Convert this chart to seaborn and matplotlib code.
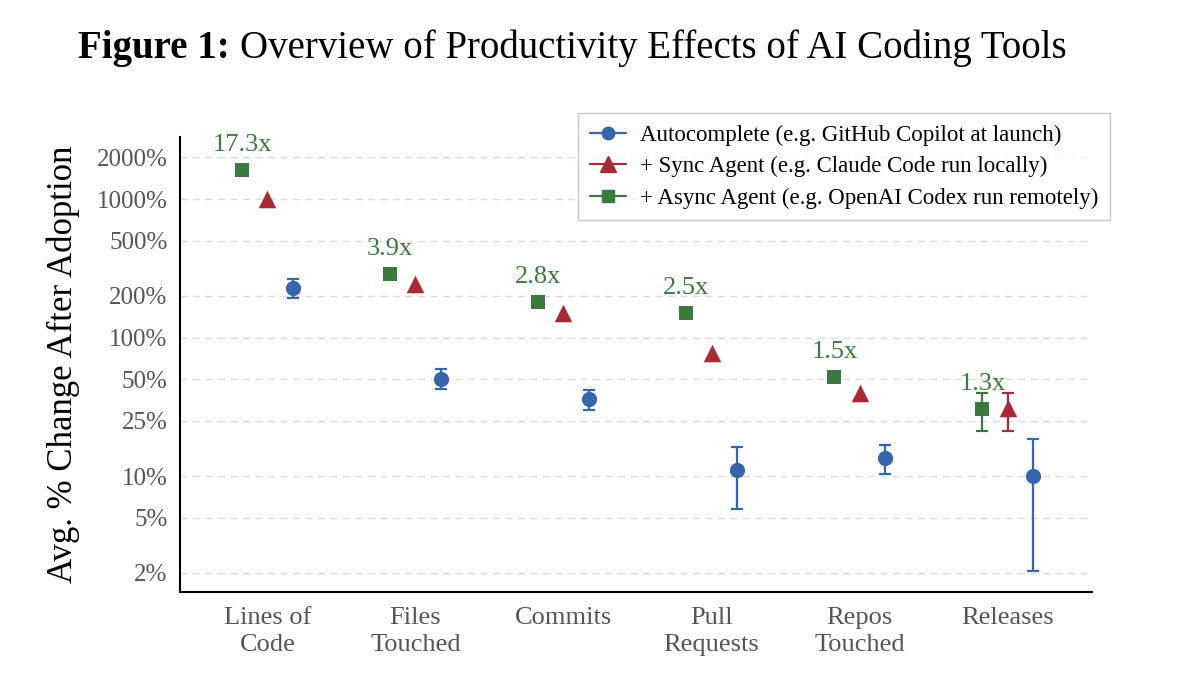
import numpy as np
import pandas as pd
import matplotlib
matplotlib.use("Agg")
import matplotlib.pyplot as plt
from matplotlib.lines import Line2D
import seaborn as sns

# values (percent change after adoption)
categories = ["Lines of\nCode", "Files\nTouched", "Commits", "Pull\nRequests", "Repos\nTouched", "Releases"]
auto_vals = [228, 50, 36, 11, 13.6, 10]
auto_lo = [193, 42.5, 30, 5.8, 10.3, 2.07]
auto_hi = [264, 59, 42, 16.1, 16.9, 18.4]
sync_vals = [1000, 243, 150, 78, 40, 31]
sync_lo = [np.nan, np.nan, np.nan, np.nan, np.nan, 21]
sync_hi = [np.nan, np.nan, np.nan, np.nan, np.nan, 40]
async_vals = [1630, 290, 180, 150, 52, 30.5]
async_lo = [np.nan, np.nan, np.nan, np.nan, np.nan, 21]
async_hi = [np.nan, np.nan, np.nan, np.nan, np.nan, 40]
multipliers = ["17.3x", "3.9x", "2.8x", "2.5x", "1.5x", "1.3x"]
yticks = [2, 5, 10, 25, 50, 100, 200, 500, 1000, 2000]

series = ["Autocomplete (e.g. GitHub Copilot at launch)",
          "+ Sync Agent (e.g. Claude Code run locally)",
          "+ Async Agent (e.g. OpenAI Codex run remotely)"]
colors = {series[0]: "#3565ad", series[1]: "#a82a35", series[2]: "#3a7a3c"}
markers = {series[0]: "o", series[1]: "^", series[2]: "s"}
sizes = {series[0]: 120, series[1]: 160, series[2]: 110}
offsets = {series[0]: 0.17, series[1]: 0.0, series[2]: -0.17}

rows = []
for name, vals, lo, hi in [(series[0], auto_vals, auto_lo, auto_hi),
                           (series[1], sync_vals, sync_lo, sync_hi),
                           (series[2], async_vals, async_lo, async_hi)]:
    for i, cat in enumerate(categories):
        rows.append({"series": name, "cat": i, "x": i + offsets[name],
                     "value": vals[i], "lo": lo[i], "hi": hi[i]})
df = pd.DataFrame(rows)

sns.set_theme(style="white")
plt.rcParams["font.family"] = ["Liberation Serif", "DejaVu Serif"]
plt.rcParams["text.color"] = "black"

fig = plt.figure(figsize=(12, 6.76), dpi=100)
ax = fig.add_axes([0.15, 0.124, 0.76, 0.673])

# error bars first so markers sit on top
for name in series:
    sub = df[(df["series"] == name) & df["lo"].notna()]
    if len(sub):
        ax.errorbar(sub["x"], sub["value"],
                    yerr=[sub["value"] - sub["lo"], sub["hi"] - sub["value"]],
                    fmt="none", ecolor=colors[name], elinewidth=1.6,
                    capsize=4, capthick=1.6, zorder=2)

for name in series:
    sns.scatterplot(data=df[df["series"] == name], x="x", y="value",
                    color=colors[name], marker=markers[name], s=sizes[name],
                    edgecolor=colors[name], linewidth=0, ax=ax, zorder=3,
                    legend=False)

ax.set_yscale("log")
ax.set_ylim(1.45, 2800)
ax.set_xlim(-0.59, 5.57)
ax.set_yticks(yticks)
ax.set_yticklabels([f"{t}%" for t in yticks])
ax.minorticks_off()
ax.set_xticks(range(len(categories)))
ax.set_xticklabels(categories, linespacing=1.25)
ax.set_xlabel("")
ax.set_ylabel("Avg. % Change After Adoption", fontsize=25, labelpad=12, color="black")

for t in yticks:
    ax.axhline(t, color="#dcdcdc", lw=1.0, ls=(0, (5, 4)), zorder=0)

ax.tick_params(axis="both", which="major", length=5, width=1.2, color="black",
               direction="out", labelcolor="#555555", labelsize=18, pad=4)
ax.tick_params(axis="x", labelsize=19, pad=6)
for side in ["top", "right"]:
    ax.spines[side].set_visible(False)
for side in ["left", "bottom"]:
    ax.spines[side].set_color("black")
    ax.spines[side].set_linewidth(1.5)

# multiplier labels above the async markers
for i, lab in enumerate(multipliers):
    ax.annotate(lab, (i + offsets[series[2]], async_vals[i]),
                xytext=(0, 10), textcoords="offset points",
                ha="center", va="bottom", fontsize=19, color=colors[series[2]])

handles = [Line2D([0], [0], color=colors[n], marker=markers[n], lw=1.6,
                  markersize=9 if markers[n] != "^" else 11) for n in series]
leg = fig.legend(handles, series, loc="upper right",
                 bbox_to_anchor=(1110 / 1200, 1 - 113 / 676),
                 fontsize=16.5, frameon=True, fancybox=False,
                 edgecolor="#bbbbbb", handlelength=1.6, borderpad=0.5,
                 labelspacing=0.45, handletextpad=0.6, borderaxespad=0)
leg.get_frame().set_linewidth(1.0)

fig.text(78 / 1200, 1 - 58 / 676, "Figure 1:", fontsize=28, fontweight="bold",
         ha="left", va="baseline", color="black")
fig.text(240 / 1200, 1 - 58 / 676, "Overview of Productivity Effects of AI Coding Tools",
         fontsize=28, ha="left", va="baseline", color="black")

fig.savefig("out.png", dpi=100)
